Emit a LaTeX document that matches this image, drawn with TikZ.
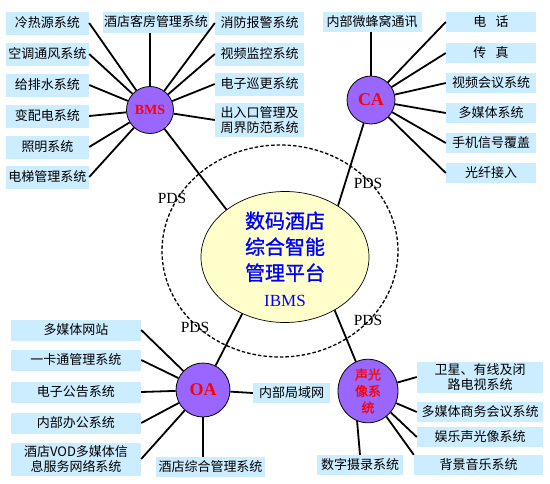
\documentclass[tikz,border=0pt]{standalone}
\usepackage{fontspec}
\setmainfont{Liberation Serif}
\newfontfamily\cjk{Noto Sans CJK SC}
\newfontfamily\cjkbold{Noto Sans CJK SC}[FakeBold=1.2]
\usetikzlibrary{shapes.geometric}
\definecolor{sysfill}{HTML}{CCECFF}
\definecolor{hubfill}{HTML}{9966FF}
\definecolor{corefill}{HTML}{FFFFCC}
\definecolor{coretext}{HTML}{0000FF}
\definecolor{hubtext}{HTML}{FF0000}

\begin{document}
\begin{tikzpicture}[x=1pt, y=-1pt,
    sysnode/.style={rectangle, fill=sysfill, inner sep=1pt, align=center,
      font=\cjk\fontsize{13}{15.5}\selectfont},
    hubnode/.style={circle, draw=black, fill=hubfill, line width=0.8pt,
      inner sep=0pt, text=hubtext},
    link/.style={line width=1.8pt},
    pdslabel/.style={font=\fontsize{15.5}{16}\selectfont, inner sep=0pt},
  ]
  \useasboundingbox (0,0) rectangle (550,483);

  % Central platform and PDS ring
  \node[ellipse, draw=black, dash pattern=on 3.5pt off 2pt, line width=1.3pt,
    minimum width=236pt, minimum height=212pt] (ring) at (280,251) {};
  \node[ellipse, draw=black, fill=corefill, line width=0.7pt,
    minimum width=168pt, minimum height=131pt] (ibms) at (285,257) {};
  \node[align=center, inner sep=0pt, text=coretext,
    font=\cjkbold\fontsize{20}{26}\selectfont] (ibmstext) at (285,259)
  {数码酒店\\综合智能\\管理平台\\{\rmfamily\fontsize{17}{26}\selectfont IBMS}};

  % BMS group
  \node[hubnode, minimum size=47pt, font=\fontsize{14}{14}\selectfont\bfseries]
  (bms) at (150,110) {BMS};
  \node[sysnode, minimum width=83pt, minimum height=23pt] (lry) at (47.5,23) {冷热源系统};
  \node[sysnode, minimum width=83pt, minimum height=23pt] (ktf) at (47.5,54) {空调通风系统};
  \node[sysnode, minimum width=83pt, minimum height=23pt] (gps) at (47.5,85) {给排水系统};
  \node[sysnode, minimum width=83pt, minimum height=23pt] (bpd) at (47.5,116) {变配电系统};
  \node[sysnode, minimum width=83pt, minimum height=23pt] (zm) at (47.5,147) {照明系统};
  \node[sysnode, minimum width=83pt, minimum height=23pt] (dt) at (47.5,177) {电梯管理系统};
  \node[sysnode, minimum width=104pt, minimum height=21pt] (kf) at (156,22) {酒店客房管理系统};
  \node[sysnode, minimum width=89pt, minimum height=23pt] (xf) at (259.5,23) {消防报警系统};
  \node[sysnode, minimum width=89pt, minimum height=23pt] (spjk) at (259.5,54) {视频监控系统};
  \node[sysnode, minimum width=89pt, minimum height=23pt] (xg) at (259.5,84) {电子巡更系统};
  \node[sysnode, minimum width=89pt, minimum height=34pt] (crk) at (259.5,120)
  {出入口管理及\\周界防范系统};

  \draw[link] (lry.east) -- (bms);
  \draw[link] (ktf.east) -- (bms);
  \draw[link] (gps.east) -- (bms);
  \draw[link] (bpd.east) -- (bms);
  \draw[link] (zm.east) -- (bms);
  \draw[link] (dt.east) -- (bms);
  \draw[link] (bms) -- (bms |- kf.south);
  \draw[link] (xf.west) -- (bms);
  \draw[link] (spjk.west) -- (bms);
  \draw[link] (xg.west) -- (bms);
  \draw[link] (crk.west) -- (bms);

  % CA group
  \node[hubnode, minimum size=48pt, font=\fontsize{18}{18}\selectfont\bfseries]
  (ca) at (371,100) {CA};
  \node[sysnode, minimum width=99pt, minimum height=20pt] (wfw) at (372,22) {内部微蜂窝通讯};
  \node[sysnode, minimum width=90pt, minimum height=20pt] (dh) at (491,22) {电\hspace{0.7em}话};
  \node[sysnode, minimum width=90pt, minimum height=20pt] (cz) at (491,53) {传\hspace{0.7em}真};
  \node[sysnode, minimum width=90pt, minimum height=20pt] (sphy) at (491,83) {视频会议系统};
  \node[sysnode, minimum width=90pt, minimum height=20pt] (dmt) at (491,113) {多媒体系统};
  \node[sysnode, minimum width=90pt, minimum height=20pt] (sjxh) at (491,143) {手机信号覆盖};
  \node[sysnode, minimum width=90pt, minimum height=20pt] (gxjr) at (491,173) {光纤接入};

  \draw[link] (ca) -- (ca |- wfw.south);
  \draw[link] (dh.west) -- (ca);
  \draw[link] (cz.west) -- (ca);
  \draw[link] (sphy.west) -- (ca);
  \draw[link] (dmt.west) -- (ca);
  \draw[link] (sjxh.west) -- (ca);
  \draw[link] (gxjr.west) -- (ca);

  % OA group
  \node[hubnode, minimum size=54pt, font=\fontsize{18}{18}\selectfont\bfseries]
  (oa) at (203,390) {OA};
  \node[sysnode, minimum width=130pt, minimum height=21pt] (dmtwz) at (76,330) {多媒体网站};
  \node[sysnode, minimum width=130pt, minimum height=21pt] (ykt) at (76,360) {一卡通管理系统};
  \node[sysnode, minimum width=130pt, minimum height=21pt] (dzgg) at (76,392) {电子公告系统};
  \node[sysnode, minimum width=130pt, minimum height=21pt] (nbbg) at (76,423) {内部办公系统};
  \node[sysnode, minimum width=130pt, minimum height=33pt] (vod) at (76,459)
  {酒店VOD多媒体信\\息服务网络系统};
  \node[sysnode, minimum width=109pt, minimum height=20pt] (zhgl) at (210.5,467) {酒店综合管理系统};
  \node[sysnode, minimum width=77pt, minimum height=20pt] (jyw) at (291.5,393) {内部局域网};

  \draw[link] (dmtwz.east) -- (oa);
  \draw[link] (ykt.east) -- (oa);
  \draw[link] (dzgg.east) -- (oa);
  \draw[link] (nbbg.east) -- (oa);
  \draw[link] (vod.east) -- (oa);
  \draw[link] (oa.south) -- (oa.south |- zhgl.north);
  \draw[link] (oa) -- (jyw.west);

  % Audio-visual group
  \node[ellipse, draw=black, fill=hubfill, line width=0.8pt, inner sep=0pt,
    minimum width=60pt, minimum height=53pt, text=hubtext, align=center,
    font=\cjkbold\fontsize{13}{16.5}\selectfont] (av) at (368,391)
  {声光\\像系\\统};
  \node[sysnode, minimum width=126pt, minimum height=31pt] (wx) at (480,377)
  {卫星、有线及闭\\路电视系统};
  \node[sysnode, minimum width=126pt, minimum height=20pt] (swhy) at (480,412) {多媒体商务会议系统};
  \node[sysnode, minimum width=126pt, minimum height=20pt] (ylsg) at (480,437) {娱乐声光像系统};
  \node[sysnode, minimum width=129pt, minimum height=20pt] (bjyy) at (478.5,465) {背景音乐系统};
  \node[sysnode, minimum width=86pt, minimum height=20pt] (szsl) at (360,465) {数字摄录系统};

  \draw[link] (wx.west) -- (av);
  \draw[link] (swhy.west) -- (av);
  \draw[link] (ylsg.west) -- (av);
  \draw[link] (bjyy.north west) -- (av);
  \draw[link] (szsl.north) -- (av.250);

  % Trunk links to the platform
  \draw[link] (bms) -- (ibms.141);
  \draw[link] (ca) -- (ibms.44);
  \draw[link] (oa) -- (ibms.233);
  \draw[link] (av) -- (ibms.313);

  \node[pdslabel] (pds1) at (172,198) {PDS};
  \node[pdslabel] (pds2) at (368,183) {PDS};
  \node[pdslabel] (pds3) at (195,327) {PDS};
  \node[pdslabel] (pds4) at (368,320) {PDS};
\end{tikzpicture}
\end{document}
